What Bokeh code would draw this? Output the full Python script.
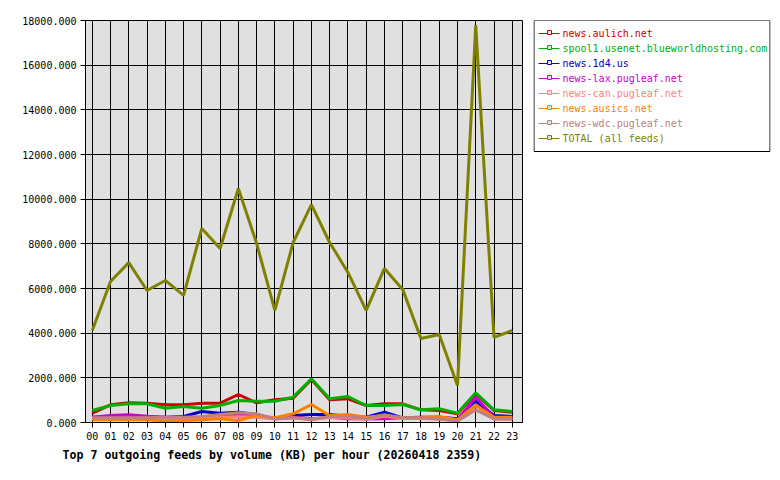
from bokeh.plotting import figure
from bokeh.models import Range1d, PrintfTickFormatter, FixedTicker, Title
from bokeh.layouts import row
from bokeh.embed import file_html
from bokeh.resources import INLINE
from bokeh.core.properties import value

hours = ["00","01","02","03","04","05","06","07","08","09","10","11",
         "12","13","14","15","16","17","18","19","20","21","22","23"]

names = ["news.aulich.net", "spool1.usenet.blueworldhosting.com", "news.1d4.us",
         "news-lax.pugleaf.net", "news-can.pugleaf.net", "news.ausics.net",
         "news-wdc.pugleaf.net", "TOTAL (all feeds)"]
colors = ["#cc0000", "#00b000", "#0000cc", "#cc00cc", "#ff8080", "#ff8000", "#c08080", "#808000"]

aulich = [418, 791, 880, 866, 791, 791, 866, 866, 1254, 880, 1015, 1090,
          1925, 1015, 1060, 761, 836, 836, 567, 537, 388, 1284, 537, 463]
spool1 = [537, 761, 836, 836, 640, 716, 640, 761, 985, 955, 955, 1134,
          1960, 1060, 1164, 761, 761, 806, 567, 612, 418, 1328, 567, 493]
d4 = [239, 239, 239, 239, 239, 269, 493, 418, 463, 358, 164, 313,
      358, 358, 284, 239, 463, 209, 239, 239, 164, 955, 313, 269]
lax = [239, 313, 343, 284, 239, 209, 239, 313, 343, 269, 164, 239,
       164, 239, 164, 164, 164, 209, 209, 164, 119, 1134, 239, 164]
can = [180, 190, 200, 190, 180, 180, 200, 230, 260, 240, 160, 200,
       150, 220, 200, 150, 280, 180, 180, 150, 80, 800, 150, 140]
ausics = [119, 119, 119, 119, 60, 90, 119, 164, 90, 313, 209, 388,
          806, 313, 358, 239, 313, 209, 209, 269, 119, 761, 239, 239]
wdc = [209, 209, 209, 209, 239, 239, 269, 358, 433, 388, 164, 209,
       119, 269, 269, 164, 343, 209, 209, 164, 60, 567, 164, 164]
total = [4120, 6310, 7160, 5910, 6360, 5690, 8690, 7790, 10480, 8020, 5020, 8060,
         9760, 8060, 6720, 5020, 6900, 5960, 3760, 3940, 1660, 17780, 3810, 4120]

series = [aulich, spool1, d4, lax, can, ausics, wdc, total]
title_text = "Top 7 outgoing feeds by volume (KB) per hour (20260418 2359)"

FONT = "DejaVu Sans Mono"
xs = list(range(len(hours)))

p = figure(width=530, height=480, output_backend="svg", toolbar_location=None,
           x_range=Range1d(-0.37, 23.56), y_range=Range1d(0, 18000),
           min_border_left=85, min_border_right=8, min_border_top=20, min_border_bottom=58)
p.background_fill_color = "#e0e0e0"
p.border_fill_color = "white"
p.outline_line_color = "black"
p.outline_line_width = 1

p.xaxis.ticker = FixedTicker(ticks=xs)
p.xaxis.major_label_overrides = {i: h for i, h in enumerate(hours)}
p.yaxis.ticker = FixedTicker(ticks=list(range(0, 18001, 2000)))
p.yaxis.formatter = PrintfTickFormatter(format="%.3f")
for ax in (p.xaxis[0], p.yaxis[0]):
    ax.major_label_text_font = FONT
    ax.major_label_text_font_size = "10px"
    ax.major_label_text_color = "black"
    ax.axis_line_color = "black"
    ax.major_tick_line_color = "black"
    ax.major_tick_out = 5
    ax.major_tick_in = 0
    ax.minor_tick_line_color = None
    ax.major_label_standoff = 4

p.xgrid.ticker = FixedTicker(ticks=xs)
p.xgrid.grid_line_color = "black"
p.xgrid.grid_line_alpha = 1
p.ygrid.grid_line_color = "black"
p.ygrid.grid_line_alpha = 1

for s, c in zip(series, colors):
    p.line(xs, s, line_color=c, line_width=3)

t = Title(text=title_text, align="left", offset=-23, text_font=FONT, text_color="black",
          text_font_size="11.6px", text_font_style="bold", standoff=6)
p.add_layout(t, "below")

# legend panel (same frame height as main plot so the row aligns)
lg = figure(width=250, height=480, output_backend="svg", toolbar_location=None,
            x_range=Range1d(0, 237), y_range=Range1d(402, 0),
            min_border_left=3, min_border_right=10, min_border_top=20, min_border_bottom=58)
lg.axis.visible = False
lg.grid.visible = False
lg.outline_line_color = None
lg.background_fill_color = "white"
lg.border_fill_color = "white"

lg.quad(left=[0.5], right=[236.5], top=[0], bottom=[131], fill_color="white",
        line_color="black", line_width=1)

ly = [13 + 15 * i for i in range(len(names))]
for i, (n, c) in enumerate(zip(names, colors)):
    lg.line([5, 26], [ly[i], ly[i]], line_color=c, line_width=1)
    lg.scatter([16], [ly[i] - 1], marker="square", size=4, line_color=c, fill_color="#e0e0e0")
lg.text(x=[29] * len(names), y=ly, text=names, text_color=colors,
        text_font=value(FONT), text_font_size="10px", text_baseline="middle", text_align="left")

layout = row(p, lg, spacing=0)
open("out.html", "w").write(file_html(layout, INLINE))
